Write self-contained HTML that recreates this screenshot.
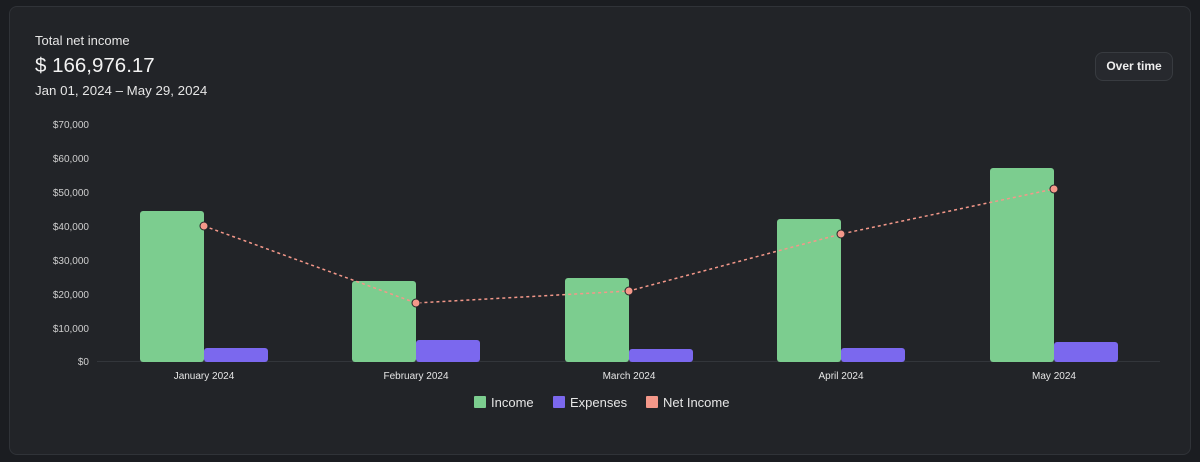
<!DOCTYPE html>
<html><head><meta charset="utf-8"><style>
body{margin:0;background:#1b1d21;width:1200px;height:462px;overflow:hidden;font-family:"Liberation Sans",sans-serif;}
.card{position:absolute;left:9px;top:6px;width:1180px;height:447px;background:#222428;border:1px solid #303338;border-radius:8px;}
.t1{position:absolute;left:35px;top:33px;color:#e6e6e6;font-size:13px;}
.t2{position:absolute;left:35px;top:54px;color:#f2f2f2;font-size:20.5px;}
.t3{position:absolute;left:35px;top:83px;color:#e6e6e6;font-size:13.3px;}
.btn{position:absolute;left:1095px;top:52px;width:76px;height:27px;border:1px solid #383b40;background:#27292e;border-radius:8px;color:#eee;font-size:12px;font-weight:bold;text-align:center;line-height:27px;}
svg{position:absolute;left:0;top:0;}
</style></head><body>
<div class="card"></div>
<div class="t1">Total net income</div>
<div class="t2">$ 166,976.17</div>
<div class="t3">Jan 01, 2024 – May 29, 2024</div>
<div class="btn">Over time</div>
<svg width="1200" height="462" font-family="Liberation Sans, sans-serif">
<g fill="#cfcfcf" font-size="10" text-anchor="end">
<text x="89" y="128">$70,000</text><text x="89" y="162">$60,000</text><text x="89" y="196">$50,000</text><text x="89" y="230">$40,000</text><text x="89" y="264">$30,000</text><text x="89" y="298">$20,000</text><text x="89" y="332">$10,000</text><text x="89" y="365">$0</text>
</g>
<line x1="97" y1="361.5" x2="1160" y2="361.5" stroke="#33363b"/>
<g fill="#7ccd8f">
<rect x="140" y="211" width="64" height="151" rx="3"/>
<rect x="352" y="281" width="64" height="81" rx="3"/>
<rect x="565" y="278" width="64" height="84" rx="3"/>
<rect x="777" y="219" width="64" height="143" rx="3"/>
<rect x="990" y="168" width="64" height="194" rx="3"/>
</g>
<g fill="#7b68ee">
<rect x="204" y="348" width="64" height="14" rx="3"/>
<rect x="416" y="340" width="64" height="22" rx="3"/>
<rect x="629" y="349" width="64" height="13" rx="3"/>
<rect x="841" y="348" width="64" height="14" rx="3"/>
<rect x="1054" y="342" width="64" height="20" rx="3"/>
</g>
<polyline points="204,226 416,303 629,291 841,234 1054,189" fill="none" stroke="#f4988a" stroke-width="1.5" stroke-dasharray="3,3"/>
<g fill="#f4988a" stroke="#222428" stroke-width="1">
<circle cx="204" cy="226" r="4"/><circle cx="416" cy="303" r="4"/><circle cx="629" cy="291" r="4"/><circle cx="841" cy="234" r="4"/><circle cx="1054" cy="189" r="4"/>
</g>
<g fill="#e6e6e6" font-size="10" text-anchor="middle">
<text x="204" y="379">January 2024</text><text x="416" y="379">February 2024</text><text x="629" y="379">March 2024</text><text x="841" y="379">April 2024</text><text x="1054" y="379">May 2024</text>
</g>
<rect x="474" y="396" width="12" height="12" fill="#7ccd8f" rx="1"/>
<text x="491" y="407" fill="#e6e6e6" font-size="13">Income</text>
<rect x="553" y="396" width="12" height="12" fill="#7b68ee" rx="1"/>
<text x="570" y="407" fill="#e6e6e6" font-size="13">Expenses</text>
<rect x="646" y="396" width="12" height="12" fill="#f4988a" rx="1"/>
<text x="663" y="407" fill="#e6e6e6" font-size="13">Net Income</text>
</svg>
</body></html>
